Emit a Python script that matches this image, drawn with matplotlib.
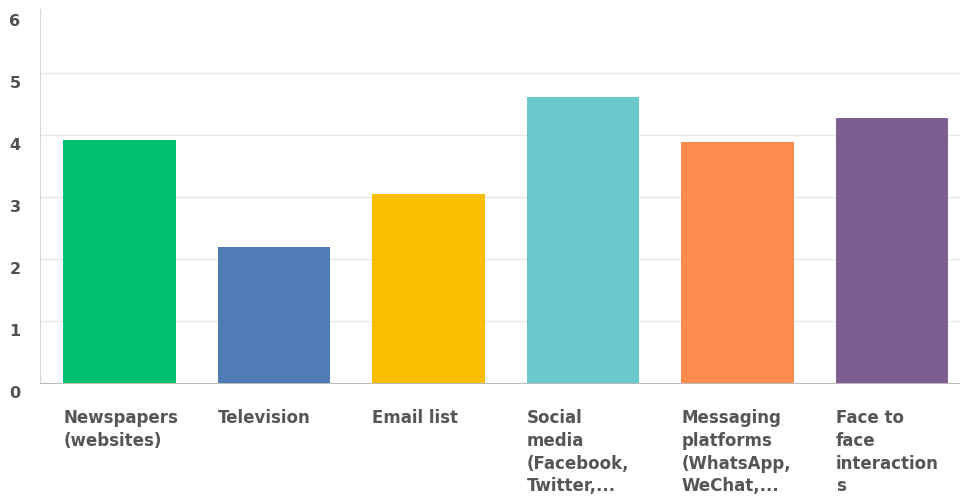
import matplotlib
matplotlib.use("Agg")
import matplotlib.pyplot as plt
import matplotlib.transforms as mtransforms
import numpy as np

categories = ["Newspapers\n(websites)", "Television", "Email list",
              "Social\nmedia\n(Facebook,\nTwitter,...",
              "Messaging\nplatforms\n(WhatsApp,\nWeChat,...",
              "Face to\nface\ninteraction\ns"]
scores = [3.91, 2.19, 3.04, 4.61, 3.88, 4.28]
colors = ["#00BF6F", "#507CB6", "#F9BE00", "#6BC8CD", "#FF8B4F", "#7D5E90"]
y_ticks = [0, 1, 2, 3, 4, 5, 6]

plt.rcParams['font.family'] = ['DejaVu Sans']

fig = plt.figure(figsize=(9.6, 5.04), dpi=100)
ax = fig.add_axes([40 / 960, 1 - 383 / 504, 920 / 960, 374 / 504])

x = np.arange(len(scores))
bar_w = 0.73
ax.bar(x, scores, width=bar_w, color=colors, zorder=3)

ax.set_ylim(0, 6.03)
ax.set_xlim(-0.515, 5.44)
ax.set_yticks(y_ticks)
ax.set_yticklabels([str(t) for t in y_ticks], fontsize=11.5, fontweight='bold', color='#505050')
ax.tick_params(axis='y', length=0, pad=14)

# light gridlines for 1..5 only
for t in y_ticks[1:-1]:
    ax.axhline(t, color='#E6E6E6', linewidth=1, zorder=0)

# nudge the y labels a little below their gridlines
shift = mtransforms.ScaledTranslation(0, -9 / 100, fig.dpi_scale_trans)
for lbl in ax.get_yticklabels():
    lbl.set_transform(lbl.get_transform() + shift)

# category labels sit left-aligned under each bar
ax.set_xticks(x - bar_w / 2)
ax.set_xticklabels(categories, fontsize=12, fontweight='bold', color='#555555',
                   ha='left', va='top', linespacing=1.33)
ax.tick_params(axis='x', length=0, pad=19)

for side in ['top', 'right']:
    ax.spines[side].set_visible(False)
ax.spines['left'].set_color('#D6D6D6')
ax.spines['bottom'].set_color('#BBBBBB')

fig.savefig("out.png", dpi=100)
